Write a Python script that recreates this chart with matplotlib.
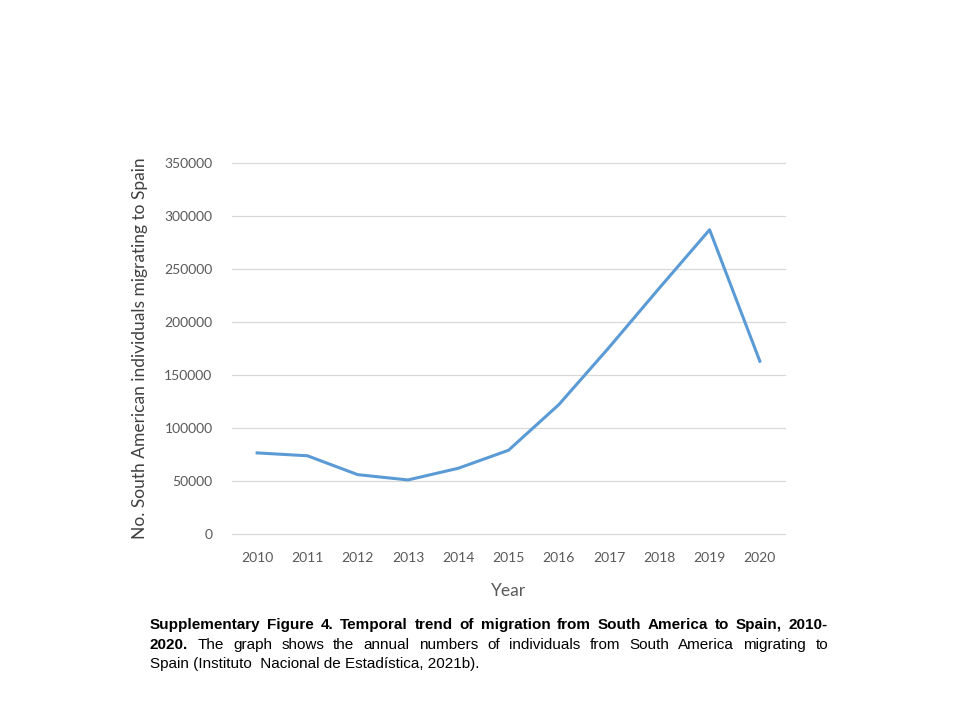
import matplotlib
matplotlib.use("Agg")
from matplotlib import pyplot as plt
from matplotlib import font_manager

# data
years = [2010, 2011, 2012, 2013, 2014, 2015, 2016, 2017, 2018, 2019, 2020]
migrants = [76500, 73800, 56000, 51000, 62000, 79000, 122000, 176000, 232000, 287000, 163000]
y_ticks = [0, 50000, 100000, 150000, 200000, 250000, 300000, 350000]

caption_line1 = [("Supplementary Figure 4. Temporal trend of migration from South America to Spain, 2010-", "bold")]
caption_line2 = [("2020.", "bold"),
                 ("The graph shows the annual numbers of individuals from South America migrating to", "normal")]
caption_line3 = "Spain (Instituto  Nacional de Estadística, 2021b)."

names = {f.name for f in font_manager.fontManager.ttflist}
axis_font = "Lato" if "Lato" in names else "DejaVu Sans"
cap_font = "Liberation Sans Narrow" if "Liberation Sans Narrow" in names else "Liberation Sans"

fig = plt.figure(figsize=(9.6, 7.2), dpi=100)
ax = fig.add_axes([232 / 960, 1 - 534 / 720, (785 - 232) / 960, (534 - 163) / 720])

ax.plot(years, migrants, color="#5B9BD5", linewidth=2.2, solid_joinstyle="round")
ax.set_xlim(2009.5, 2020.5)
ax.set_ylim(0, 350000)
ax.set_xticks(years)
ax.set_xticklabels([str(y) for y in years])
ax.set_yticks(y_ticks)
ax.set_yticklabels([str(v) for v in y_ticks])
ax.grid(axis="y", color="#D9D9D9", linewidth=0.9)
for gl in ax.get_ygridlines():
    gl.set_clip_on(False)
ax.set_axisbelow(True)
for s in ax.spines.values():
    s.set_visible(False)
ax.tick_params(length=0, labelsize=10, labelcolor="#595959")
for lab in ax.get_xticklabels() + ax.get_yticklabels():
    lab.set_family(axis_font)
ax.tick_params(axis="x", pad=13)
ax.tick_params(axis="y", pad=14)

ax.set_ylabel("No. South American individuals migrating to Spain", family=axis_font,
              fontsize=12.5, color="#404040", labelpad=12)
ax.set_xlabel("Year", family=axis_font, fontsize=12.5, color="#595959", labelpad=14)

# caption, justified by hand like the word document
renderer = fig.canvas.get_renderer()
left, right = 150, 828
cap_size = 11


def draw_justified(parts, baseline):
    words = []
    for text, weight in parts:
        for w in text.split():
            words.append((w, weight))
    artists = []
    for w, weight in words:
        t = fig.text(0, 1 - baseline / 720, w, family=cap_font, fontsize=cap_size,
                     fontweight=weight, va="baseline", ha="left")
        artists.append(t)
    widths = [t.get_window_extent(renderer).width for t in artists]
    gap = (right - left - sum(widths)) / (len(words) - 1)
    x = left
    for t, w in zip(artists, widths):
        t.set_x(x / 960)
        x += w + gap


draw_justified(caption_line1, 629)
draw_justified(caption_line2, 649)
fig.text(left / 960, 1 - 668 / 720, caption_line3, family=cap_font, fontsize=cap_size,
         va="baseline", ha="left")

fig.savefig("out.png", dpi=100)
